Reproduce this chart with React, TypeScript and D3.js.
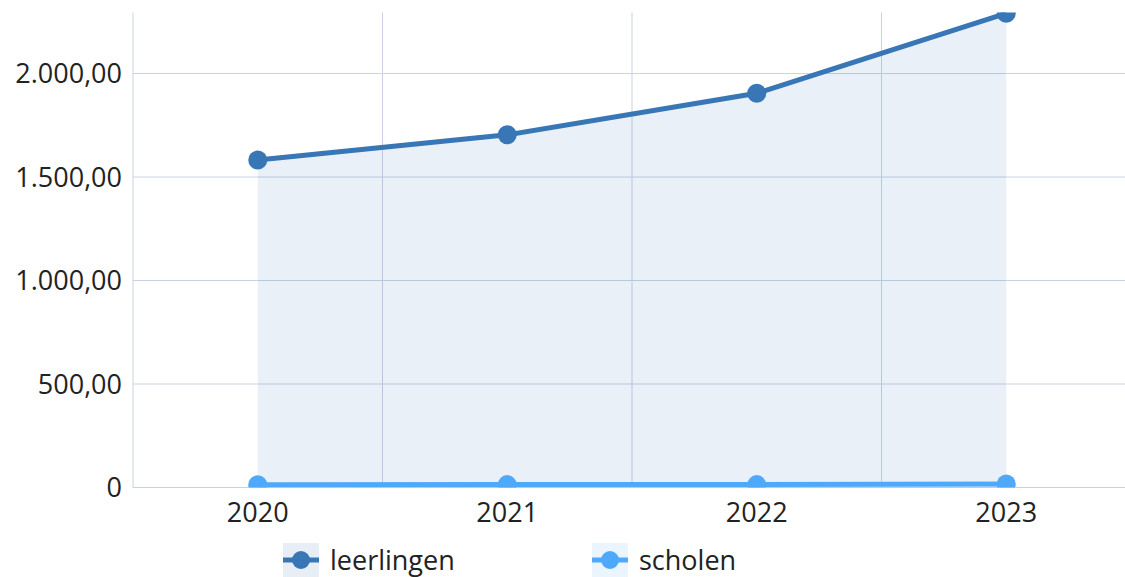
import React from "react";
import * as d3 from "d3";

const years = ["2020", "2021", "2022", "2023"];
const leerlingen = [1582, 1704, 1905, 2291];
const scholen = [13, 14, 14, 17];
const yTicks = [0, 500, 1000, 1500, 2000];
const yMax = 2295;

const seriesNames = ["leerlingen", "scholen"];
const seriesColors = ["#3876b6", "#4fa9fb"];
const legendBg = ["#e8eef6", "#eaf5ff"];

const W = 1125;
const H = 577;
const M = { left: 133, right: 1131, top: 12.5, bottom: 487.5 };
const FONT = "'Segoe UI', 'Open Sans', sans-serif";

const nl = d3.formatLocale({ decimal: ",", thousands: ".", grouping: [3], currency: ["€", ""] });
const fmt = (d: number) => (d === 0 ? "0" : nl.format(",.2f")(d));

export default function App() {
  const x = d3.scaleBand<string>().domain(years).range([M.left, M.right]).padding(0);
  const y = d3.scaleLinear().domain([0, yMax]).range([M.bottom, M.top]);
  const cx = (yr: string) => (x(yr) as number) + x.bandwidth() / 2;

  const data = [leerlingen, scholen];
  const line = d3
    .line<number>()
    .x((_, i) => cx(years[i]))
    .y((d) => y(d));
  const area = d3
    .area<number>()
    .x((_, i) => cx(years[i]))
    .y0(y(0))
    .y1((d) => y(d));

  const boundaries = years.slice(1).map((yr) => x(yr) as number);

  return (
    <svg
      width={W}
      height={H}
      style={{ position: "fixed", left: 0, top: 0, background: "#fff" }}
      fontFamily={FONT}
    >
      <defs>
        <clipPath id="plotclip">
          <rect x={M.left} y={M.top} width={M.right - M.left} height={M.bottom - M.top} />
        </clipPath>
      </defs>
      {/* grid */}
      {yTicks.slice(1).map((t) => (
        <line key={"h" + t} x1={M.left} x2={M.right} y1={y(t)} y2={y(t)} stroke="#c9d2e2" strokeWidth={1} />
      ))}
      {boundaries.map((bx, i) => (
        <line key={"v" + i} x1={bx} x2={bx} y1={M.top} y2={M.bottom} stroke="#c9d2e2" strokeWidth={1} />
      ))}
      {/* axes */}
      <line x1={M.left} x2={M.left} y1={M.top} y2={M.bottom} stroke="#c9d2e2" strokeWidth={1} />
      <line x1={M.left} x2={M.right} y1={M.bottom} y2={M.bottom} stroke="#c9d2e2" strokeWidth={1} />

      <g clipPath="url(#plotclip)">
        {data.map((s, k) => (
          <path key={"a" + k} d={area(s) as string} fill={seriesColors[k]} fillOpacity={0.11} />
        ))}
        {data.map((s, k) => (
          <g key={"s" + k}>
            <path d={line(s) as string} fill="none" stroke={seriesColors[k]} strokeWidth={5} />
            {s.map((v, i) => (
              <circle key={i} cx={cx(years[i])} cy={y(v)} r={9.5} fill={seriesColors[k]} />
            ))}
          </g>
        ))}
      </g>

      {/* y labels */}
      {yTicks.map((t) => (
        <text key={"yl" + t} x={122} y={y(t)} dy="0.36em" textAnchor="end" fontSize={27} fill="#222">
          {fmt(t)}
        </text>
      ))}
      {/* x labels */}
      {years.map((yr) => (
        <text key={"xl" + yr} x={cx(yr)} y={521.5} textAnchor="middle" fontSize={27} fill="#222">
          {yr}
        </text>
      ))}

      {/* legend */}
      {seriesNames.map((n, k) => {
        const lx = [283, 592][k];
        return (
          <g key={"lg" + n}>
            <rect x={lx} y={543} width={36} height={34} fill={legendBg[k]} />
            <line x1={lx} x2={lx + 36} y1={560} y2={560} stroke={seriesColors[k]} strokeWidth={5} />
            <circle cx={lx + 18} cy={560} r={9} fill={seriesColors[k]} />
            <text x={lx + 47} y={570} fontSize={27} fill="#222">
              {n}
            </text>
          </g>
        );
      })}
    </svg>
  );
}
